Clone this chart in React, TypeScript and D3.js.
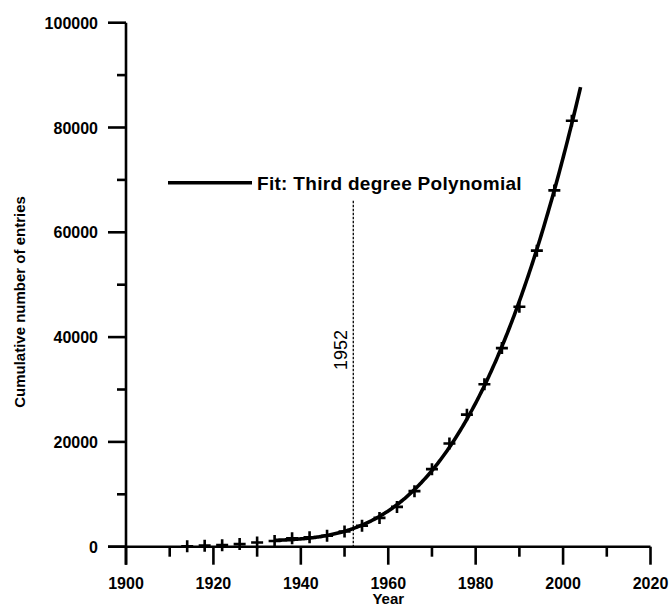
import React from 'react'
import { scaleLinear, line, range } from 'd3'

// cumulative entries, one marker every four years
const years = [1914, 1918, 1922, 1926, 1930, 1934, 1938, 1942, 1946, 1950, 1954, 1958, 1962, 1966, 1970, 1974, 1978, 1982, 1986, 1990, 1994, 1998, 2002]
const entries = [100, 200, 300, 500, 800, 1100, 1600, 1800, 2100, 2900, 4000, 5500, 7600, 10600, 14800, 19700, 25200, 31000, 37900, 45800, 56500, 68000, 81300]
const xMajor = [1900, 1920, 1940, 1960, 1980, 2000, 2020]
const xMinor = [1910, 1930, 1950, 1970, 1990, 2010]
const yMajor = [0, 20000, 40000, 60000, 80000, 100000]
const yMinor = [10000, 30000, 50000, 70000, 90000]
const fitFrom = 1934
const fitTo = 2004
const markYear = 1952
const markTop = 66000

// least squares cubic, x centred to keep the normal equations sane
const cubicFit = (xs: number[], ys: number[]) => {
    const x0 = xs.reduce((a, b) => a + b, 0) / xs.length
    const n = 4
    const A = range(n).map(() => new Array(n + 1).fill(0))
    xs.forEach((x, k) => {
        const t = (x - x0) / 10
        for (let i = 0; i < n; i++) {
            for (let j = 0; j < n; j++) A[i][j] += Math.pow(t, i + j)
            A[i][n] += ys[k] * Math.pow(t, i)
        }
    })
    for (let i = 0; i < n; i++) {
        let p = i
        for (let r = i + 1; r < n; r++) if (Math.abs(A[r][i]) > Math.abs(A[p][i])) p = r
        const tmp = A[i]; A[i] = A[p]; A[p] = tmp
        for (let r = 0; r < n; r++) {
            if (r === i) continue
            const f = A[r][i] / A[i][i]
            for (let c = i; c <= n; c++) A[r][c] -= f * A[i][c]
        }
    }
    const c = A.map((row, i) => row[n] / row[i])
    return (x: number) => {
        const t = (x - x0) / 10
        return c[0] + c[1] * t + c[2] * t * t + c[3] * t * t * t
    }
}

const App = () => {
    const x = scaleLinear().domain([1900, 2020]).range([126, 650.5])
    const y = scaleLinear().domain([0, 100000]).range([546.7, 22.7])

    const idx = years.map((yr, i) => i).filter((i) => years[i] >= fitFrom)
    const fit = cubicFit(idx.map((i) => years[i]), idx.map((i) => entries[i]))
    const fitPts = range(fitFrom, fitTo + 0.01, 0.25)
    const fitLine = line<number>().x((d) => x(d)).y((d) => y(fit(d)))

    const font = '"Liberation Sans", Arial, sans-serif'
    const x0 = x(1900)
    const yBase = y(0)

    return (
        <svg width={670} height={606} style={{ position: 'absolute', left: 0, top: 0 }} fontFamily={font}>
            <rect width={670} height={606} fill='#fff' />
            {/* axes */}
            <g stroke='#000' strokeWidth={2.6} fill='none'>
                <line x1={x0} x2={x0} y1={y(100000)} y2={yBase + 18} />
                <line x1={x0 - 18} x2={x(2020)} y1={yBase} y2={yBase} />
                {yMajor.map((v) => <line key={'ym' + v} x1={x0 - 18} x2={x0} y1={y(v)} y2={y(v)} />)}
                {yMinor.map((v) => <line key={'yn' + v} x1={x0 - 9} x2={x0} y1={y(v)} y2={y(v)} />)}
                {xMajor.map((v) => <line key={'xm' + v} x1={x(v)} x2={x(v)} y1={yBase} y2={yBase + 18} />)}
                {xMinor.map((v) => <line key={'xn' + v} x1={x(v)} x2={x(v)} y1={yBase} y2={yBase + 10} />)}
            </g>
            <g fontWeight='bold' fontSize={16} fill='#000'>
                {yMajor.map((v) => <text key={'yl' + v} x={x0 - 28} y={y(v) + 6} textAnchor='end'>{v}</text>)}
                {xMajor.map((v) => <text key={'xl' + v} x={x(v)} y={588.5} textAnchor='middle'>{v}</text>)}
                <text x={(x(1900) + x(2020)) / 2} y={604} textAnchor='middle' fontSize={15}>Year</text>
                <text transform={`translate(25,302) rotate(-90)`} textAnchor='middle' fontSize={15}>Cumulative number of entries</text>
            </g>

            {/* 1952 marker */}
            <line x1={x(markYear)} x2={x(markYear)} y1={y(markTop)} y2={yBase} stroke='#000' strokeWidth={1.3} strokeDasharray='2.5,1.5' />
            <text transform={`translate(${x(markYear) - 6},350) rotate(-90)`} textAnchor='middle' fontSize={18}>{markYear}</text>

            {/* fit */}
            <path d={fitLine(fitPts) || ''} fill='none' stroke='#000' strokeWidth={3.6} />
            {years.map((yr, i) => (
                <path key={yr} d={`M${x(yr) - 6},${y(entries[i])}h12M${x(yr)},${y(entries[i]) - 6}v12`} stroke='#000' strokeWidth={2.6} />
            ))}

            {/* legend */}
            <line x1={168} x2={252} y1={182.7} y2={182.7} stroke='#000' strokeWidth={3.4} />
            <text x={257} y={189.5} fontWeight='bold' fontSize={19} letterSpacing={0.3}>Fit: Third degree Polynomial</text>
        </svg>
    )
}

export default App
